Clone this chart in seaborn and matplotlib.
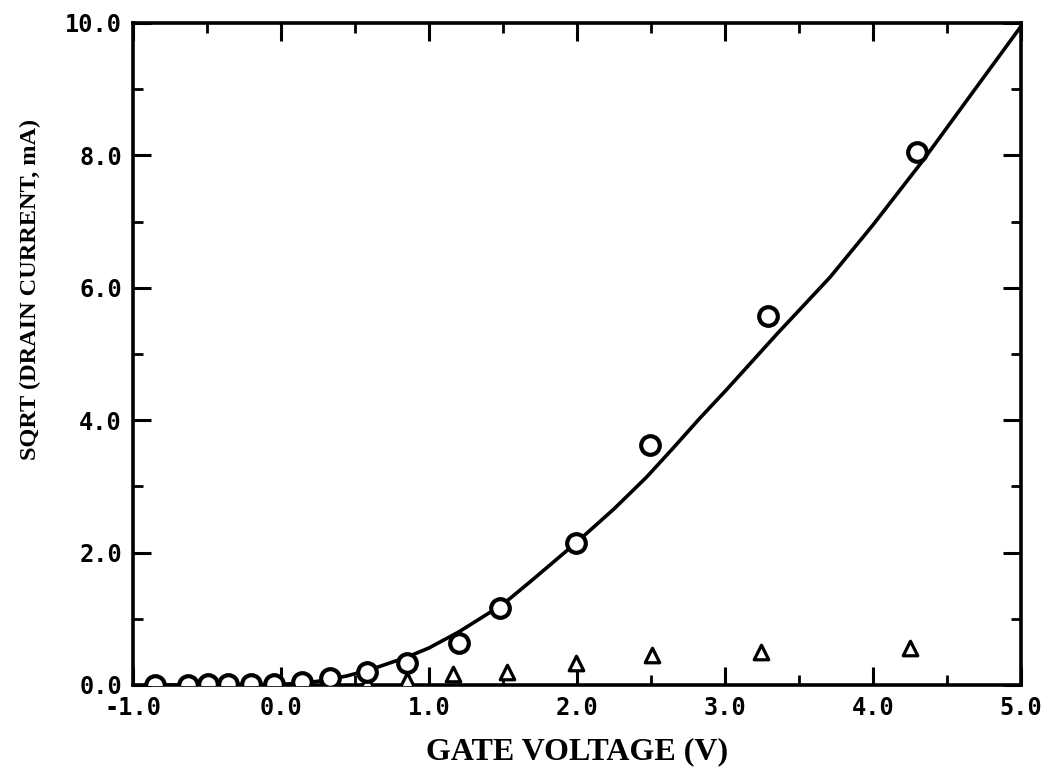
import matplotlib
matplotlib.use("Agg")
import matplotlib.pyplot as plt
import seaborn as sns
import pandas as pd
from matplotlib.ticker import MultipleLocator, FormatStrFormatter

# Data
circle_x = [-0.85, -0.63, -0.49, -0.36, -0.20, -0.05, 0.14, 0.33, 0.58, 0.85, 1.20, 1.48, 1.99, 2.49, 3.29, 4.30]
circle_y = [0.00, 0.00, 0.01, 0.01, 0.01, 0.02, 0.05, 0.10, 0.20, 0.33, 0.63, 1.16, 2.14, 3.63, 5.57, 8.05]

tri_x = [-0.85, -0.63, -0.49, -0.36, -0.20, -0.05, 0.14, 0.33, 0.58, 0.85, 1.16, 1.53, 1.99, 2.51, 3.24, 4.25]
tri_y = [0.00, 0.00, 0.00, 0.00, 0.00, 0.00, 0.01, 0.02, 0.04, 0.08, 0.17, 0.20, 0.33, 0.45, 0.50, 0.56]

fit_x = [-0.85, -0.5, -0.2, 0.0, 0.15, 0.3, 0.45, 0.6, 0.85, 1.0, 1.2, 1.5, 1.7, 2.0, 2.25, 2.47, 2.65, 2.83, 3.01, 3.35, 3.71, 4.0, 4.34, 4.65, 5.0]
fit_y = [0.0, 0.0, 0.0, 0.01, 0.03, 0.07, 0.14, 0.23, 0.42, 0.56, 0.80, 1.22, 1.59, 2.16, 2.66, 3.14, 3.58, 4.03, 4.46, 5.30, 6.16, 6.95, 7.93, 8.88, 9.95]

x_ticks = [-1.0, 0.0, 1.0, 2.0, 3.0, 4.0, 5.0]
y_ticks = [0.0, 2.0, 4.0, 6.0, 8.0, 10.0]

sns.set_theme(style="ticks")
plt.rcParams['font.family'] = ['DejaVu Sans Mono', 'DejaVu Sans']
plt.rcParams['text.color'] = 'black'
plt.rcParams['axes.labelcolor'] = 'black'
plt.rcParams['xtick.color'] = 'black'
plt.rcParams['ytick.color'] = 'black'

fig = plt.figure(figsize=(10.57, 7.82), dpi=100)
ax = fig.add_axes([133/1057, 97/782, (1021-133)/1057, (685-23)/782])

df_c = pd.DataFrame({"x": circle_x, "y": circle_y})
df_t = pd.DataFrame({"x": tri_x, "y": tri_y})
df_f = pd.DataFrame({"x": fit_x, "y": fit_y})

sns.lineplot(data=df_f, x="x", y="y", ax=ax, color="black", linewidth=2.6, sort=True)
sns.scatterplot(data=df_t, x="x", y="y", ax=ax, marker="^", s=110,
                facecolor="white", edgecolor="black", linewidth=2.3, zorder=3)
sns.scatterplot(data=df_c, x="x", y="y", ax=ax, marker="o", s=180,
                facecolor="white", edgecolor="black", linewidth=3.0, zorder=4)

ax.set_xlim(-1.0, 5.0)
ax.set_ylim(0.0, 10.0)
ax.set_xticks(x_ticks)
ax.set_yticks(y_ticks)
ax.xaxis.set_minor_locator(MultipleLocator(0.5))
ax.yaxis.set_minor_locator(MultipleLocator(1.0))
ax.xaxis.set_major_formatter(FormatStrFormatter('%.1f'))
ax.yaxis.set_major_formatter(FormatStrFormatter('%.1f'))

ax.tick_params(which='both', direction='in', top=True, right=True, color='black',
               labelcolor='black')
ax.tick_params(which='major', length=13, width=2.2, labelsize=17, pad=8)
ax.tick_params(which='minor', length=7, width=2.0)
for lab in ax.get_xticklabels() + ax.get_yticklabels():
    lab.set_fontweight('bold')

for sp in ax.spines.values():
    sp.set_linewidth(2.6)
    sp.set_color('black')
    sp.set_visible(True)

ax.set_xlabel("GATE VOLTAGE (V)", family=['Liberation Serif'], fontweight='bold',
              fontsize=23, color='black', labelpad=12)
ax.set_ylabel("SQRT (DRAIN CURRENT, mA)", family=['Liberation Serif'], fontweight='bold',
              fontsize=17.5, color='black')
ax.yaxis.set_label_coords(-0.104, 0.597)

fig.savefig("out.png", dpi=100, facecolor="white")
